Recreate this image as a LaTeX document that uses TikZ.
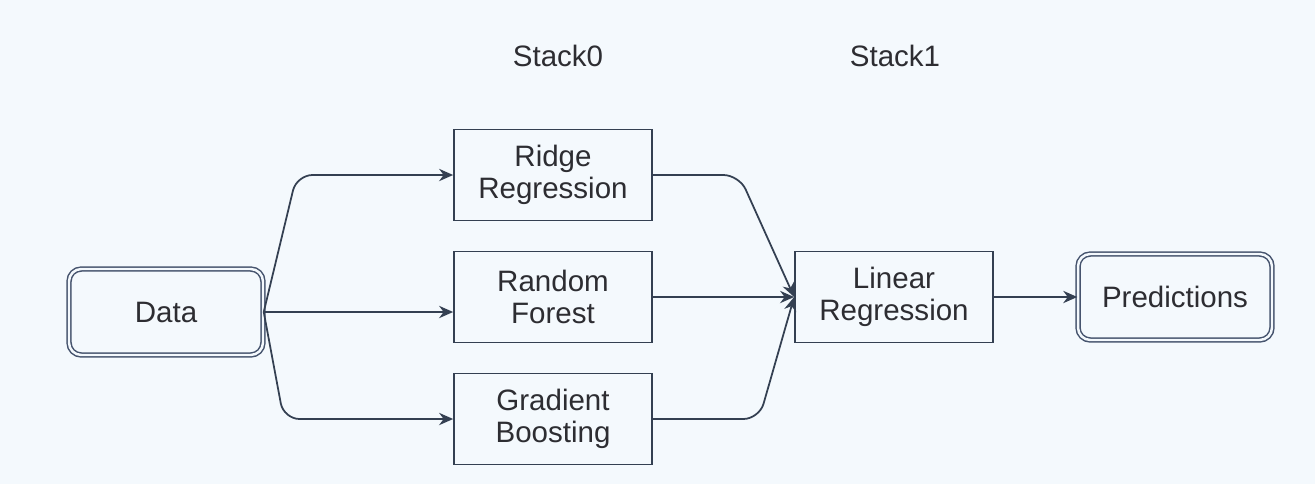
\documentclass[tikz,border=0pt]{standalone}
\usepackage{fontspec}
\setmainfont{Liberation Sans}
\usetikzlibrary{arrows.meta}
\definecolor{bgcol}{RGB}{244,249,253}
\definecolor{linecol}{RGB}{52,64,82}
\definecolor{rimcol}{RGB}{70,84,110}
\definecolor{txtcol}{RGB}{45,45,50}
\tikzset{
  model/.style={draw=linecol, line width=1pt, fill=bgcol, text=txtcol,
    minimum width=3.96cm, minimum height=1.82cm, align=center,
    font=\fontsize{16.8}{18.5}\selectfont},
  terminal/.style={model, draw=rimcol, rounded corners=7pt, double=bgcol,
    double distance=1.4pt, line width=0.85pt, minimum width=3.88cm,
    minimum height=1.72cm},
  stacklabel/.style={text=txtcol, font=\fontsize{16.8}{18.5}\selectfont},
  link/.style={draw=linecol, line width=1pt, rounded corners=9pt,
    -{Stealth[length=8pt,width=7pt]}}
}
\begin{document}
\begin{tikzpicture}[x=0.02cm,y=-0.02cm]
  \fill[bgcol] (0,0) rectangle (1315,484);
  \useasboundingbox (0,0) rectangle (1315,484);
  \draw[draw=none]
    (558,56) node[stacklabel] (s0){Stack0}
    (895,56) node[stacklabel] (s1){Stack1}
    (166,312) node[terminal] (data){Data}
    (553,175) node[model] (ridge){Ridge\\Regression}
    (553,297) node[model] (forest){Random\\Forest}
    (553,419) node[model] (boost){Gradient\\Boosting}
    (894,297) node[model] (linear){Linear\\Regression}
    (1175,297) node[terminal] (pred){Predictions};
  \begin{scope}[link]
    \draw (data.east) -- ([xshift=0.66cm]data.east |- ridge.west) -- (ridge.west);
    \draw (data.east) -- (forest.west |- data.east);
    \draw (data.east) -- ([xshift=0.4cm]data.east |- boost.west) -- (boost.west);
    \draw (ridge.east) -- ([xshift=-1.1cm]linear.west |- ridge.east) -- (linear.west);
    \draw (forest.east) -- (linear.west);
    \draw (boost.east) -- ([xshift=-0.7cm]linear.west |- boost.east) -- (linear.west);
    \draw (linear.east) -- (pred.west);
  \end{scope}
\end{tikzpicture}
\end{document}
